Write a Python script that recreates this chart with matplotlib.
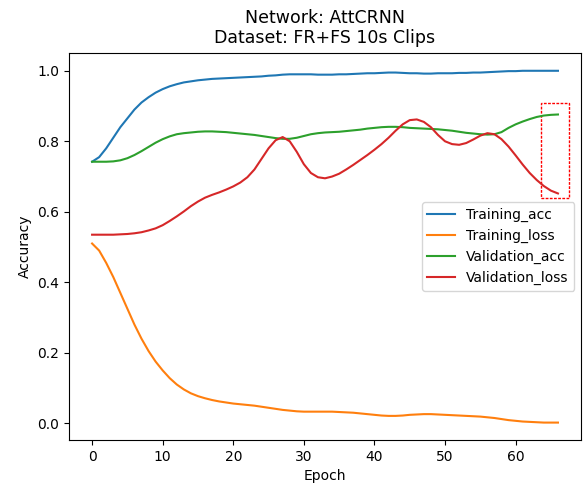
import matplotlib
matplotlib.use("Agg")
import matplotlib.pyplot as plt
from matplotlib.patches import Rectangle

epochs = list(range(67))

training_acc = [0.742, 0.755, 0.78, 0.81, 0.84, 0.865, 0.89, 0.91, 0.925, 0.938,
                0.948, 0.956, 0.962, 0.967, 0.97, 0.973, 0.975, 0.977, 0.978, 0.979,
                0.980, 0.981, 0.982, 0.983, 0.984, 0.986, 0.987, 0.989, 0.990, 0.990,
                0.990, 0.990, 0.989, 0.989, 0.989, 0.990, 0.990, 0.991, 0.992, 0.993,
                0.993, 0.994, 0.995, 0.995, 0.994, 0.993, 0.993, 0.992, 0.992, 0.993,
                0.993, 0.993, 0.994, 0.994, 0.995, 0.995, 0.996, 0.997, 0.998, 0.999,
                0.999, 1.0, 1.0, 1.0, 1.0, 1.0, 1.0]

training_loss = [0.51, 0.49, 0.455, 0.415, 0.37, 0.325, 0.28, 0.24, 0.205, 0.175,
                 0.15, 0.128, 0.11, 0.096, 0.085, 0.077, 0.071, 0.066, 0.062, 0.059,
                 0.056, 0.054, 0.052, 0.05, 0.047, 0.044, 0.041, 0.038, 0.036, 0.034,
                 0.033, 0.033, 0.033, 0.033, 0.033, 0.032, 0.031, 0.03, 0.028, 0.026,
                 0.024, 0.022, 0.021, 0.021, 0.022, 0.024, 0.025, 0.026, 0.026, 0.025,
                 0.024, 0.023, 0.022, 0.021, 0.02, 0.019, 0.017, 0.015, 0.012, 0.009,
                 0.007, 0.005, 0.004, 0.003, 0.002, 0.002, 0.002]

validation_acc = [0.742, 0.742, 0.742, 0.743, 0.746, 0.752, 0.761, 0.772, 0.784, 0.796,
                  0.806, 0.814, 0.82, 0.823, 0.825, 0.827, 0.828, 0.828, 0.827, 0.826,
                  0.824, 0.822, 0.82, 0.818, 0.815, 0.812, 0.809, 0.807, 0.807, 0.81,
                  0.815, 0.82, 0.823, 0.825, 0.826, 0.827, 0.829, 0.831, 0.833, 0.836,
                  0.838, 0.84, 0.841, 0.841, 0.84, 0.838, 0.837, 0.836, 0.835, 0.834,
                  0.832, 0.83, 0.827, 0.824, 0.822, 0.82, 0.819, 0.82, 0.826, 0.838,
                  0.848, 0.856, 0.863, 0.869, 0.873, 0.875, 0.876]

validation_loss = [0.535, 0.535, 0.535, 0.535, 0.536, 0.537, 0.539, 0.542, 0.547, 0.553,
                   0.562, 0.574, 0.587, 0.601, 0.616, 0.629, 0.64, 0.648, 0.655, 0.663,
                   0.672, 0.683, 0.698, 0.72, 0.75, 0.78, 0.803, 0.812, 0.8, 0.77,
                   0.735, 0.71, 0.698, 0.695, 0.7, 0.708, 0.72, 0.733, 0.747, 0.761,
                   0.776, 0.792, 0.81, 0.83, 0.848, 0.86, 0.862, 0.855, 0.84, 0.818,
                   0.8, 0.792, 0.79, 0.795, 0.805, 0.816, 0.823, 0.82, 0.806, 0.785,
                   0.76, 0.734, 0.71, 0.69, 0.673, 0.66, 0.652]

# highlighted region (epoch from/to, accuracy from/to)
box_x = [63.6, 67.5]
box_y = [0.64, 0.91]

fig = plt.figure(figsize=(5.83, 4.88), dpi=100)
ax = fig.add_subplot(111)
fig.subplots_adjust(left=0.118, right=0.997, bottom=0.098, top=0.891)

ax.plot(epochs, training_acc, label="Training_acc")
ax.plot(epochs, training_loss, label="Training_loss")
ax.plot(epochs, validation_acc, label="Validation_acc")
ax.plot(epochs, validation_loss, label="Validation_loss")

# add_artist so the box does not stretch the x limits
rect = Rectangle((box_x[0], box_y[0]), box_x[1] - box_x[0], box_y[1] - box_y[0],
                 fill=False, edgecolor="red", linewidth=1, linestyle=(0, (2, 1)))
ax.add_artist(rect)

ax.set_title("Network: AttCRNN\nDataset: FR+FS 10s Clips", fontsize=12.5, pad=7)
ax.set_xlabel("Epoch")
ax.set_ylabel("Accuracy")
ax.legend(loc="center right")

fig.savefig("out.png", dpi=100)
